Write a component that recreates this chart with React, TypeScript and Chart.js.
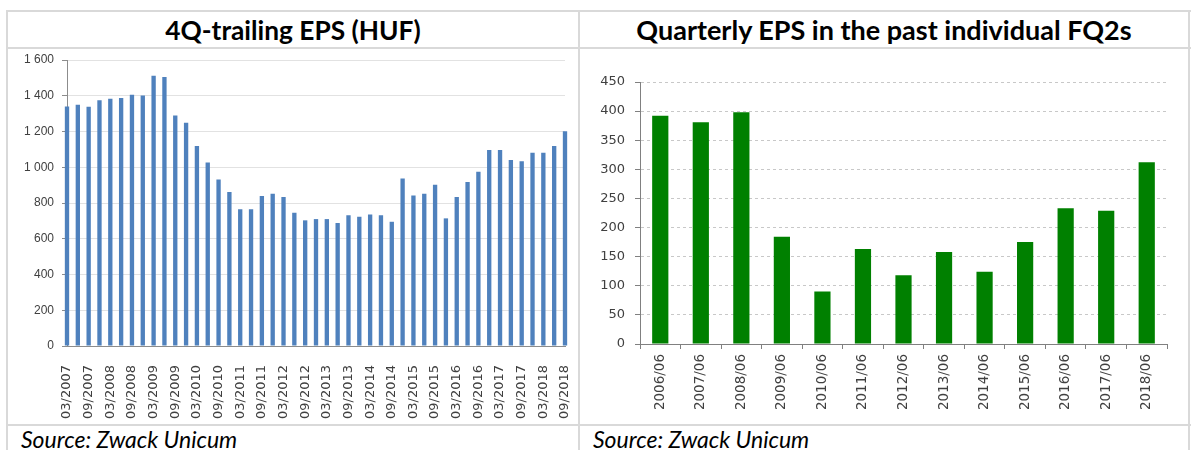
import React, { useEffect, useRef } from "react";
import { Chart, registerables } from "chart.js";

Chart.register(...registerables);

const leftTitle = "4Q-trailing EPS (HUF)";
const rightTitle = "Quarterly EPS in the past individual FQ2s";
const sourceText = "Source: Zwack Unicum";

const quarterLabels = [
  "03/2007", "06/2007", "09/2007", "12/2007",
  "03/2008", "06/2008", "09/2008", "12/2008",
  "03/2009", "06/2009", "09/2009", "12/2009",
  "03/2010", "06/2010", "09/2010", "12/2010",
  "03/2011", "06/2011", "09/2011", "12/2011",
  "03/2012", "06/2012", "09/2012", "12/2012",
  "03/2013", "06/2013", "09/2013", "12/2013",
  "03/2014", "06/2014", "09/2014", "12/2014",
  "03/2015", "06/2015", "09/2015", "12/2015",
  "03/2016", "06/2016", "09/2016", "12/2016",
  "03/2017", "06/2017", "09/2017", "12/2017",
  "03/2018", "06/2018", "09/2018",
];

const trailingEps = [
  1340, 1350, 1338, 1375,
  1383, 1387, 1406, 1402,
  1512, 1505, 1290, 1249,
  1119, 1027, 932, 861,
  765, 765, 839, 852,
  833, 746, 703, 710,
  710, 688, 731, 723,
  735, 731, 695, 937,
  842, 852, 902, 714,
  833, 917, 975, 1096,
  1096, 1040, 1033, 1081,
  1081, 1119, 1201,
];

const fq2Labels = [
  "2006/06", "2007/06", "2008/06", "2009/06", "2010/06", "2011/06", "2012/06",
  "2013/06", "2014/06", "2015/06", "2016/06", "2017/06", "2018/06",
];

const fq2Eps = [392, 381, 398, 184, 90, 163, 118, 158, 124, 175, 233, 229, 312];

const leftAxisMax = 1600;
const leftAxisStep = 200;
const rightAxisMax = 450;
const rightAxisStep = 50;

const fmtSpace = (v: number) => {
  const n = Number(v);
  if (n >= 1000) {
    const th = Math.floor(n / 1000);
    const rest = String(n % 1000).padStart(3, "0");
    return `${th} ${rest}`;
  }
  return String(n);
};

function ChartBox({ make, width, height, left, top }: any) {
  const ref = useRef<HTMLCanvasElement | null>(null);
  useEffect(() => {
    if (!ref.current) return;
    const chart = new Chart(ref.current, make());
    return () => chart.destroy();
  }, []);
  return (
    <div style={{ position: "absolute", left, top, width, height }}>
      <canvas ref={ref} width={width} height={height} style={{ width, height, display: "block" }} />
    </div>
  );
}

const makeLeft = (): any => ({
  type: "bar",
  data: {
    labels: quarterLabels,
    datasets: [
      {
        data: trailingEps,
        backgroundColor: "#4f81bd",
        barPercentage: 0.4,
        categoryPercentage: 1,
        clip: false,
      },
    ],
  },
  options: {
    animation: false,
    responsive: false,
    layout: { padding: { top: 11, right: 12, left: 0, bottom: 0 } },
    plugins: { legend: { display: false }, tooltip: { enabled: false } },
    scales: {
      x: {
        offset: false,
        grid: { display: false },
        border: { display: true, color: "#8c8c8c" },
        ticks: {
          autoSkip: false,
          maxRotation: 90,
          minRotation: 90,
          padding: 11,
          color: "#404040",
          font: { family: "DejaVu Sans", size: 13 },
          callback: (_v: any, i: number) => (i % 2 === 0 ? quarterLabels[i] : ""),
        },
        afterFit: (s: any) => {
          s.height = 78;
          s.paddingLeft = 0;
          s.paddingRight = 0;
        },
      },
      y: {
        min: 0,
        max: leftAxisMax,
        ticks: {
          stepSize: leftAxisStep,
          padding: 8,
          color: "#404040",
          font: { family: "Liberation Sans", size: 12 },
          callback: (v: any) => fmtSpace(v),
        },
        grid: { color: "#e2e2e2", tickLength: 5, tickColor: "#8c8c8c" },
        border: { color: "#8c8c8c" },
        afterFit: (s: any) => {
          s.width = 58;
          s.paddingTop = 0;
          s.paddingBottom = 0;
        },
      },
    },
  },
});

const makeRight = (): any => ({
  type: "bar",
  data: {
    labels: fq2Labels,
    datasets: [
      {
        data: fq2Eps,
        backgroundColor: "#008000",
        barPercentage: 0.4,
        categoryPercentage: 1,
      },
    ],
  },
  options: {
    animation: false,
    responsive: false,
    layout: { padding: { top: 33, right: 20, left: 0, bottom: 0 } },
    plugins: { legend: { display: false }, tooltip: { enabled: false } },
    scales: {
      x: {
        offset: true,
        grid: {
          display: true,
          drawOnChartArea: false,
          offset: true,
          tickLength: 5,
          tickColor: "#808080",
        },
        border: { display: true, color: "#808080" },
        ticks: {
          autoSkip: false,
          maxRotation: 90,
          minRotation: 90,
          padding: 5,
          color: "#404040",
          font: { family: "DejaVu Sans", size: 13.5 },
        },
        afterFit: (s: any) => {
          s.height = 80;
          s.paddingLeft = 0;
          s.paddingRight = 0;
        },
      },
      y: {
        min: 0,
        max: rightAxisMax,
        ticks: {
          stepSize: rightAxisStep,
          padding: 10,
          color: "#404040",
          font: { family: "DejaVu Sans", size: 13 },
        },
        grid: { color: "#c8c8c8", tickLength: 5, tickColor: "#808080" },
        border: { color: "#808080", dash: [3, 3] },
        afterFit: (s: any) => {
          s.width = 59;
          s.paddingTop = 0;
          s.paddingBottom = 0;
        },
      },
    },
  },
});

const lineColor = "#d9d9d9";

function HLine({ x1, x2, y }: any) {
  return <div style={{ position: "absolute", left: x1, top: y, width: x2 - x1, height: 2, background: lineColor }} />;
}
function VLine({ x, y1, y2 }: any) {
  return <div style={{ position: "absolute", left: x, top: y1, width: 2, height: y2 - y1, background: lineColor }} />;
}

export default function App() {
  const titleStyle: any = {
    position: "absolute",
    top: 12,
    height: 35,
    display: "flex",
    alignItems: "center",
    justifyContent: "center",
    fontFamily: "Lato, 'Open Sans', sans-serif",
    fontWeight: 700,
    color: "#000",
    whiteSpace: "nowrap",
  };
  const sourceStyle: any = {
    position: "absolute",
    top: 427,
    fontFamily: "Lato, 'Open Sans', sans-serif",
    fontStyle: "italic",
    fontSize: 23,
    lineHeight: "24px",
    color: "#000",
    whiteSpace: "nowrap",
  };
  return (
    <div style={{ position: "absolute", left: 0, top: 0, width: 1192, height: 450, overflow: "hidden", background: "#fff" }}>
      <HLine x1={6} x2={1191} y={10} />
      <HLine x1={6} x2={1191} y={47} />
      <HLine x1={6} x2={1191} y={424} />
      <VLine x={6} y1={10} y2={450} />
      <VLine x={578} y1={10} y2={450} />
      <VLine x={1188} y1={10} y2={450} />

      <div style={{ ...titleStyle, left: 8, width: 570, fontSize: 26.3 }}>{leftTitle}</div>
      <div style={{ ...titleStyle, left: 580, width: 608, fontSize: 27 }}>{rightTitle}</div>

      <ChartBox make={makeLeft} left={9} top={49} width={568} height={375} />
      <ChartBox make={makeRight} left={581} top={49} width={606} height={375} />

      <div style={{ ...sourceStyle, left: 21 }}>{sourceText}</div>
      <div style={{ ...sourceStyle, left: 593 }}>{sourceText}</div>
    </div>
  );
}
